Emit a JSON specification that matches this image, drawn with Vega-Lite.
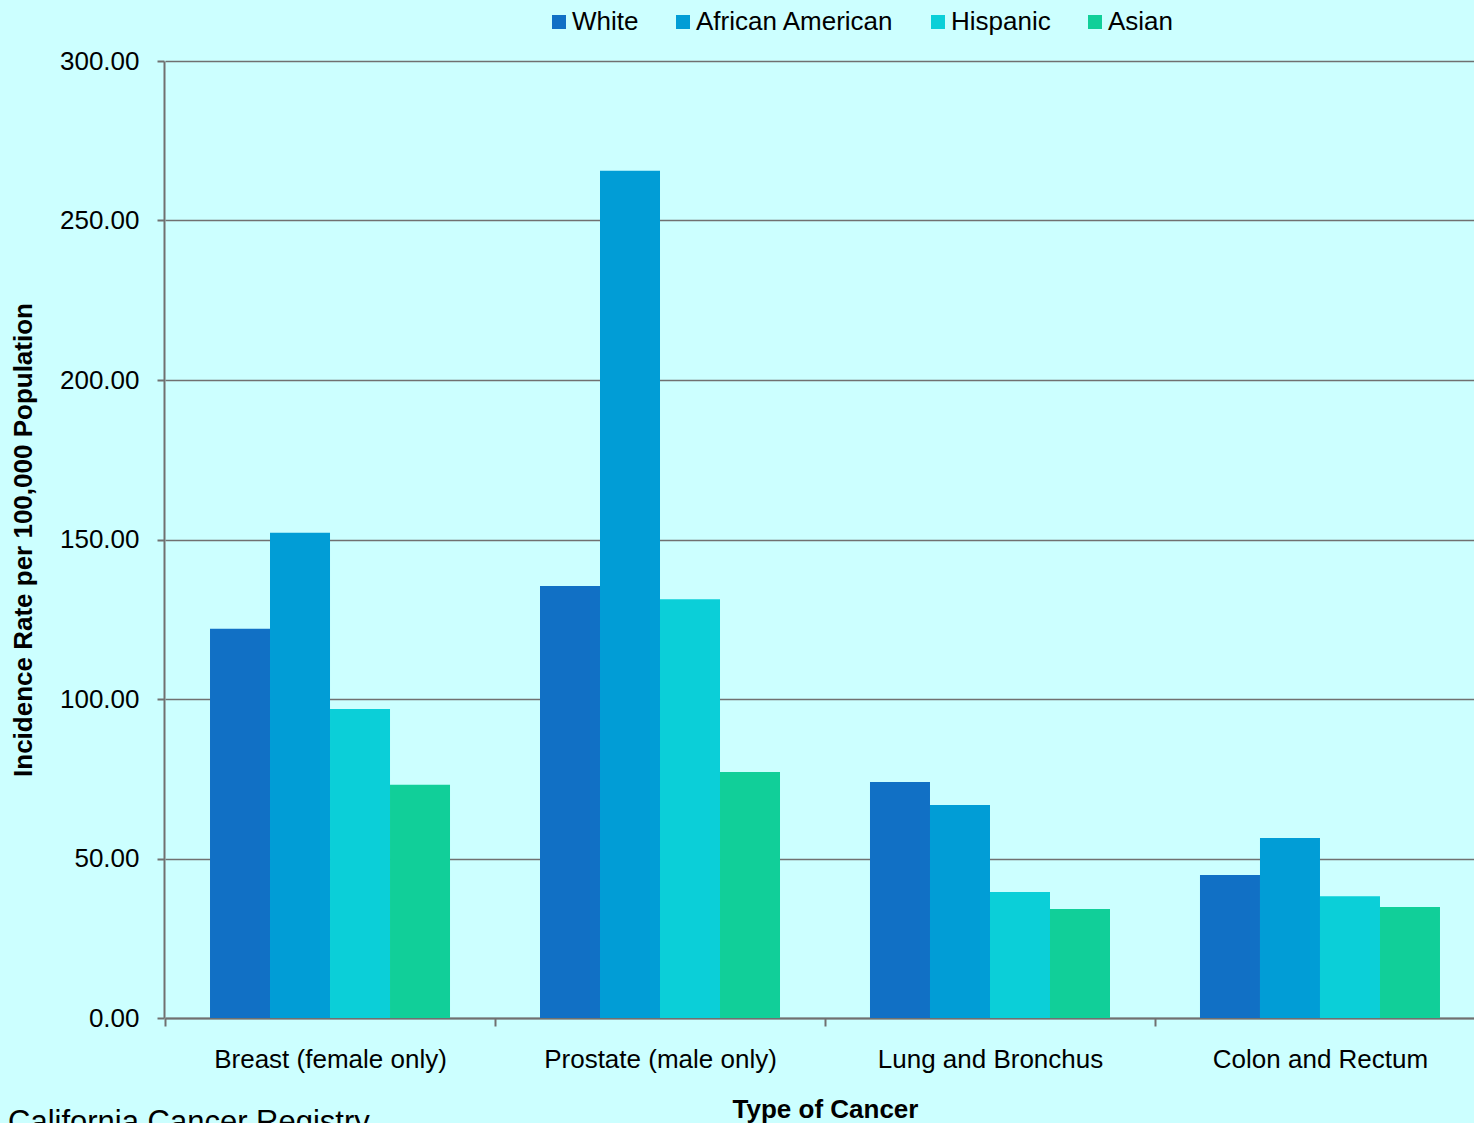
{
  "$schema": "https://vega.github.io/schema/vega-lite/v6.json",
  "width": 1310,
  "height": 957,
  "autosize": {"type": "none"},
  "padding": {"left": 164, "top": 61, "right": 0, "bottom": 105},
  "background": "#CCFFFF",
  "title": {
    "text": "California Cancer Registry",
    "orient": "bottom",
    "anchor": "start",
    "frame": "group",
    "dx": -156,
    "offset": 10,
    "font": "Liberation Sans",
    "fontSize": 31,
    "fontWeight": "normal",
    "color": "#000000",
    "baseline": "alphabetic"
  },
  "config": {
    "view": {"stroke": null},
    "font": "Liberation Sans",
    "axis": {
      "labelFont": "Liberation Sans",
      "titleFont": "Liberation Sans",
      "labelFontSize": 26,
      "titleFontSize": 26,
      "labelColor": "#000000",
      "titleColor": "#000000",
      "domainColor": "#707070",
      "tickColor": "#707070",
      "gridColor": "#707070",
      "domainWidth": 2,
      "tickWidth": 2,
      "gridWidth": 1.5,
      "labelLimit": 0
    }
  },
  "data": {
    "values": [
      {"cancer": "Breast (female only)", "race": "White", "rate": 122.0},
      {"cancer": "Breast (female only)", "race": "African American", "rate": 152.1},
      {"cancer": "Breast (female only)", "race": "Hispanic", "rate": 96.9},
      {"cancer": "Breast (female only)", "race": "Asian", "rate": 73.1},
      {"cancer": "Prostate (male only)", "race": "White", "rate": 135.4},
      {"cancer": "Prostate (male only)", "race": "African American", "rate": 265.6},
      {"cancer": "Prostate (male only)", "race": "Hispanic", "rate": 131.3},
      {"cancer": "Prostate (male only)", "race": "Asian", "rate": 77.1},
      {"cancer": "Lung and Bronchus", "race": "White", "rate": 74.0},
      {"cancer": "Lung and Bronchus", "race": "African American", "rate": 66.8},
      {"cancer": "Lung and Bronchus", "race": "Hispanic", "rate": 39.5},
      {"cancer": "Lung and Bronchus", "race": "Asian", "rate": 34.2},
      {"cancer": "Colon and Rectum", "race": "White", "rate": 44.8},
      {"cancer": "Colon and Rectum", "race": "African American", "rate": 56.4},
      {"cancer": "Colon and Rectum", "race": "Hispanic", "rate": 38.2},
      {"cancer": "Colon and Rectum", "race": "Asian", "rate": 34.8}
    ]
  },
  "mark": {"type": "bar"},
  "encoding": {
    "x": {
      "field": "cancer",
      "type": "nominal",
      "sort": ["Breast (female only)", "Prostate (male only)", "Lung and Bronchus", "Colon and Rectum"],
      "scale": {"range": [1, 1321], "paddingInner": 0.2727, "paddingOuter": 0.1364},
      "axis": {
        "title": "Type of Cancer",
        "titleFontWeight": "bold",
        "titleAnchor": "middle",
        "labelAngle": 0,
        "tickOffset": -165,
        "labelOffset": 165,
        "tickSize": 8,
        "labelPadding": 20,
        "titlePadding": 24,
        "grid": false
      }
    },
    "xOffset": {
      "field": "race",
      "type": "nominal",
      "sort": ["White", "African American", "Hispanic", "Asian"],
      "scale": {"paddingInner": 0, "paddingOuter": 0}
    },
    "y": {
      "field": "rate",
      "type": "quantitative",
      "scale": {"domain": [0, 300], "nice": false},
      "axis": {
        "title": "Incidence Rate per 100,000 Population",
        "titleFontWeight": "bold",
        "values": [0, 50, 100, 150, 200, 250, 300],
        "format": ".2f",
        "tickSize": 7,
        "labelPadding": 18,
        "titlePadding": 23,
        "grid": true
      }
    },
    "color": {
      "field": "race",
      "type": "nominal",
      "sort": ["White", "African American", "Hispanic", "Asian"],
      "scale": {
        "domain": ["White", "African American", "Hispanic", "Asian"],
        "range": ["#1170C5", "#019DD6", "#0BCFD8", "#11CF99"]
      },
      "legend": {
        "title": null,
        "orient": "none",
        "direction": "horizontal",
        "legendX": 382,
        "legendY": -52,
        "symbolType": "square",
        "symbolSize": 196,
        "symbolStrokeWidth": 0,
        "labelFontSize": 26,
        "labelFont": "Liberation Sans",
        "labelColor": "#000000",
        "labelOffset": 0,
        "labelLimit": 0,
        "columnPadding": 31
      }
    }
  }
}
